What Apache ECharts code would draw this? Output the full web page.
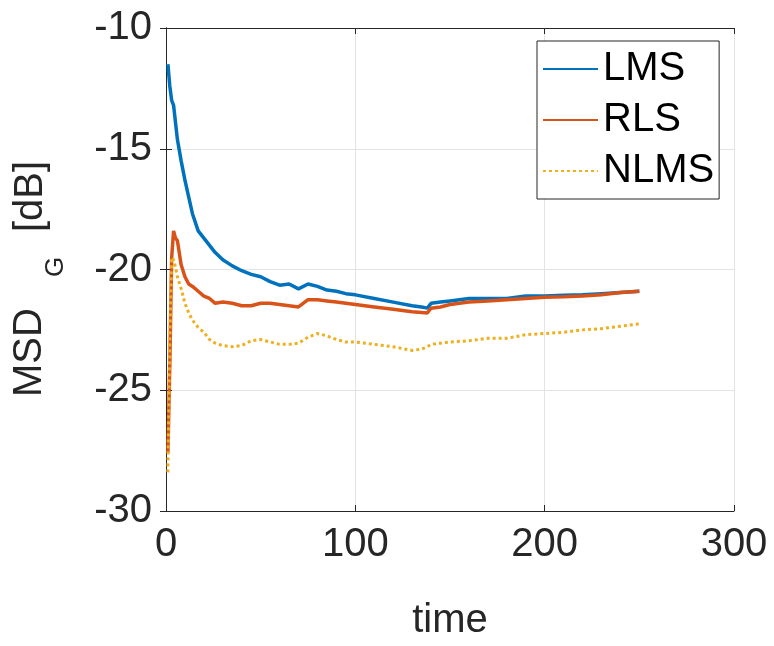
<!DOCTYPE html>
<html>
<head>
<meta charset="utf-8">
<script src="https://cdn.jsdelivr.net/npm/echarts@6/dist/echarts.min.js"></script>
<style>
  html, body { margin: 0; padding: 0; background: #fff; }
  #chart { width: 774px; height: 646px; }
</style>
</head>
<body>
<div id="chart"></div>
<script>
// time samples and values
const timeData = [1, 2, 3, 4, 5, 6, 8, 10, 12, 14, 17, 20, 23, 26, 30, 35, 40, 45, 50, 55, 60, 65, 70, 75, 80, 85, 90, 95, 100, 110, 120, 130, 135, 138, 140, 145, 150, 160, 170, 180, 190, 200, 210, 220, 230, 240, 250]
const lmsData = [-11.5, -12.4, -13.0, -13.2, -13.9, -14.6, -15.5, -16.3, -17.0, -17.7, -18.4, -18.7, -19.0, -19.3, -19.6, -19.85, -20.05, -20.2, -20.3, -20.5, -20.65, -20.6, -20.8, -20.6, -20.7, -20.85, -20.9, -21.0, -21.05, -21.2, -21.35, -21.5, -21.55, -21.6, -21.4, -21.35, -21.3, -21.2, -21.2, -21.2, -21.1, -21.1, -21.07, -21.05, -21.0, -20.95, -20.9]
const rlsData = [-27.6, -24.0, -19.5, -18.4, -18.7, -18.8, -19.8, -20.3, -20.6, -20.7, -20.9, -21.1, -21.2, -21.4, -21.35, -21.4, -21.5, -21.5, -21.4, -21.4, -21.45, -21.5, -21.55, -21.25, -21.25, -21.3, -21.35, -21.4, -21.45, -21.55, -21.65, -21.75, -21.78, -21.8, -21.6, -21.55, -21.45, -21.35, -21.3, -21.25, -21.2, -21.15, -21.13, -21.1, -21.05, -20.95, -20.9]
const nlmsData = [-28.4, -23.0, -19.5, -19.6, -19.9, -20.3, -20.8, -21.4, -21.8, -22.1, -22.4, -22.6, -22.9, -23.05, -23.15, -23.2, -23.15, -22.95, -22.9, -23.0, -23.1, -23.1, -23.05, -22.8, -22.65, -22.75, -22.9, -23.0, -23.0, -23.1, -23.2, -23.35, -23.3, -23.2, -23.1, -23.05, -23.0, -22.95, -22.85, -22.85, -22.7, -22.65, -22.6, -22.5, -22.45, -22.35, -22.25]
const seriesNames = ['LMS', 'RLS', 'NLMS']
const xTicks = [0, 100, 200, 300]
const yTicks = [-30, -25, -20, -15, -10]

const chart = echarts.init(document.getElementById('chart'))

const font = 'Liberation Sans, Arial, sans-serif'
const axisColor = '#262626'

function pairs (vals) {
  return timeData.map((t, i) => [t, vals[i]])
}

const baseX = {
  type: 'value',
  min: xTicks[0],
  max: xTicks[xTicks.length - 1],
  interval: 100,
  axisLine: { show: true, lineStyle: { color: axisColor, width: 1 } },
  axisTick: { show: true, inside: true, length: 6, lineStyle: { color: axisColor } },
  splitLine: { show: false }
}
const baseY = {
  type: 'value',
  min: yTicks[0],
  max: yTicks[yTicks.length - 1],
  interval: 5,
  axisLine: { show: true, lineStyle: { color: axisColor, width: 1 } },
  axisTick: { show: true, inside: true, length: 6, lineStyle: { color: axisColor } },
  splitLine: { show: false }
}

chart.setOption({
  animation: false,
  backgroundColor: '#fff',
  grid: { left: 166, right: 40, top: 28, bottom: 130, containLabel: false },
  xAxis: [
    Object.assign({}, baseX, {
      position: 'bottom',
      name: 'time',
      nameLocation: 'middle',
      nameGap: 90,
      nameTextStyle: { fontFamily: font, fontSize: 40, color: axisColor },
      axisLabel: { fontFamily: font, fontSize: 40, color: axisColor, margin: 14 },
      splitLine: { show: true, lineStyle: { color: '#e3e3e3', width: 1 } }
    }),
    Object.assign({}, baseX, { position: 'top', axisLabel: { show: false } })
  ],
  yAxis: [
    Object.assign({}, baseY, {
      position: 'left',
      axisLabel: { fontFamily: font, fontSize: 40, color: axisColor, margin: 14 },
      splitLine: { show: true, lineStyle: { color: '#e3e3e3', width: 1 } }
    }),
    Object.assign({}, baseY, { position: 'right', axisLabel: { show: false } })
  ],
  graphic: [
    {
      type: 'text', x: 30, y: 397, rotation: Math.PI / 2,
      style: { text: 'MSD', font: '40px ' + font, fill: axisColor, align: 'left', verticalAlign: 'middle' }
    },
    {
      type: 'text', x: 56, y: 277, rotation: Math.PI / 2,
      style: { text: 'G', font: '26px ' + font, fill: axisColor, align: 'left', verticalAlign: 'middle' }
    },
    {
      type: 'text', x: 31, y: 232, rotation: Math.PI / 2,
      style: { text: '[dB]', font: '40px ' + font, fill: axisColor, align: 'left', verticalAlign: 'middle' }
    }
  ],
  legend: {
    data: seriesNames,
    orient: 'vertical',
    left: 537,
    top: 41,
    padding: [5, 5, 5, 5],
    itemWidth: 55,
    itemHeight: 14,
    itemGap: 5,
    itemStyle: { opacity: 0 },
    borderColor: axisColor,
    borderWidth: 1,
    backgroundColor: '#fff',
    textStyle: { fontFamily: font, fontSize: 40, color: '#000', lineHeight: 46 }
  },
  series: [
    {
      name: seriesNames[0], type: 'line', data: pairs(lmsData),
      symbol: 'none', color: '#0072BD',
      lineStyle: { width: 3.5, color: '#0072BD' }
    },
    {
      name: seriesNames[1], type: 'line', data: pairs(rlsData),
      symbol: 'none', color: '#D95319',
      lineStyle: { width: 3.5, color: '#D95319' }
    },
    {
      name: seriesNames[2], type: 'line', data: pairs(nlmsData),
      symbol: 'none', color: '#EDB120',
      lineStyle: { width: 3, color: '#EDB120', type: [3, 3] }
    }
  ]
})
</script>
</body>
</html>
